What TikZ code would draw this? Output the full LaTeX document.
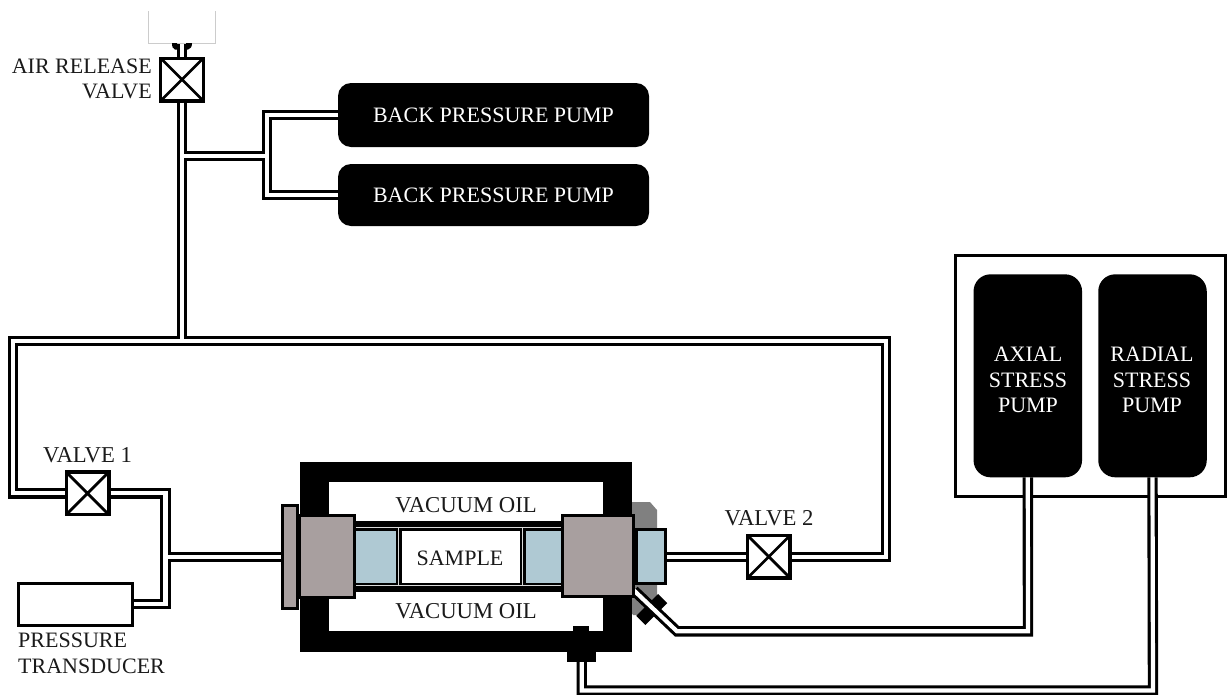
\documentclass[tikz,border=0pt]{standalone}
\usepackage{fontspec}
\setmainfont{Liberation Serif}
\definecolor{blockgrey}{HTML}{A89F9F}
\definecolor{sealblue}{HTML}{AFC9D3}
\definecolor{capgrey}{HTML}{808080}
\definecolor{inktext}{HTML}{1A1A1A}
\newcommand{\pipelayer}[1]{%
  \path[#1] (airv.south) -- (jtop);
  \path[#1] (jbranch) -- (267,156);
  \path[#1] (bp1.west) -- (267,115) -- (267,195) -- (bp2.west);
  \path[#1] (airv.north) -- (182,43);
  \path[#1] (jtop) -- (13,341) -- (13,493.3) -- (v1.west);
  \path[#1] (jtop) -- (886,341) -- (886,556.7) -- (v2.east);
  \path[#1] (v1.east) -- (165.5,493.3) -- (165.5,604.2) -- (trans.east);
  \path[#1] (165.5,556.7) -- (plate.west);
  \path[#1] (v2.west) -- (capb.east);
  \path[#1] (axial.south) -- (1028,631.3) -- (677,631.3) -- (diag);
  \path[#1] (radial.south) -- (1153,690.5) -- (581.7,690.5) -- (fitb);
}
\tikzset{
  valve/.style={draw=black,fill=white,line width=3.4pt,minimum width=42.6pt,minimum height=42.6pt,inner sep=0pt,outer sep=1.7pt,
    path picture={\draw[black,line width=2.8pt] (path picture bounding box.north west) -- (path picture bounding box.south east)
      (path picture bounding box.north east) -- (path picture bounding box.south west);}},
  pump/.style={fill=black,rounded corners=13pt,inner sep=0pt,outer sep=0pt,text=white},
  tallpump/.style={pump,rounded corners=17pt,minimum width=108.5pt,minimum height=203pt},
  widepump/.style={pump,minimum width=311pt},
  pipeouter/.style={draw=black,line width=10.4pt,miter limit=10},
  pipeinner/.style={draw=white,line width=4.2pt,miter limit=10},
  greyblock/.style={draw=black,fill=blockgrey,line width=3pt,inner sep=0pt,outer sep=1.5pt},
  label/.style={text=inktext,inner sep=0pt,align=center},
  widelabel/.style={label,font=\fontsize{22.7}{25.5}\selectfont},
  pumptext/.style={text=white,inner sep=0pt,align=center},
  flat/.style={inner sep=0pt,outer sep=0pt},
  fineline/.style={draw=black!15,line width=1.3pt},
}
\begin{document}
\begin{tikzpicture}[x=1pt,y=-1pt,font=\fontsize{22}{25.5}\selectfont]
\useasboundingbox (0,0) rectangle (1227,694);
\clip (0,0) rectangle (1227,694);
% outer pump housing
\node[flat,draw=black,line width=3pt,minimum width=270pt,minimum height=241pt] (housing) at (1090.3,376) {};
% pumps
\node[widepump,minimum height=64pt] (bp1) at (493.5,115) {};
\node[widepump,minimum height=62pt] (bp2) at (493.5,195) {};
\node[tallpump] (axial) at (1027.8,375.8) {};
\node[tallpump] (radial) at (1152.5,375.8) {};
% valves, transducer
\node[valve] (airv) at (182,79.5) {};
\node[valve] (v1) at (87.5,493.3) {};
\node[valve] (v2) at (768.8,556.7) {};
\node[flat,outer sep=1.7pt,draw=black,fill=white,line width=3.4pt,minimum width=114pt,minimum height=42pt] (trans) at (75.5,604.2) {};
% cell end parts needed as pipe ends
\node[greyblock,minimum width=15pt,minimum height=103pt] (plate) at (290,556.7) {};
\coordinate (jtop) at (182,341);
\coordinate (jbranch) at (182,156);
\coordinate (diag) at (634,590.5);
\coordinate (fitb) at (581.7,660);
% grey back cap
\path[fill=capgrey] (631,502) -- (650,502) -- (657,510) -- (657,596) -- (641,615) -- (633,615) -- (631,612) -- cycle;
% diagonal fitting, passed through by the pipe
\node[flat,fill=black,rotate=-45,minimum width=13pt,minimum height=31pt] (fita) at (651.7,609.5) {};
\node[flat,outer sep=1.5pt,draw=black,fill=sealblue,line width=3pt,minimum width=28.7pt,minimum height=53.7pt] (capb) at (650.8,556.7) {};
% pipes
\pipelayer{pipeouter}
\pipelayer{pipeinner}
% upper vessel
\draw[black!20,line width=1pt] (148,11) -- (148,43) -- (215,43) -- (215,11);
\fill (172,43) -- (177,43) -- (177,49.5) -- (175,49.5) .. controls (173,49) and (172,47) .. cycle;
\fill (192,43) -- (186,43) -- (186,49.5) -- (188,49.5) .. controls (190.5,49) and (192,47) .. cycle;
% frame
\node[flat,fill=black,minimum width=331.7pt,minimum height=190pt] (frame) at (465.8,556.7) {};
\node[flat,fill=white,minimum width=274pt,minimum height=148.4pt] (oil) at (466.3,556.5) {};
% tube
\node[flat,fill=black,minimum width=206pt,minimum height=71pt] (tube) at (459,556.5) {};
\draw[fineline] (356,527.5) -- (562,527.5) (356,585.8) -- (562,585.8) (398.3,527.5) -- (398.3,585.8) (522.7,527.5) -- (522.7,585.8);
\node[flat,fill=sealblue,minimum width=40pt,minimum height=51.7pt] (sealL) at (376,556.8) {};
\node[flat,fill=sealblue,minimum width=35pt,minimum height=51.7pt] (sealR) at (543.5,556.8) {};
\node[flat,fill=white,minimum width=118.5pt,minimum height=51.7pt] (sample) at (460.8,556.8) {};
% blocks
\node[greyblock,minimum width=55.3pt,minimum height=82pt] (blockL) at (326.8,556.5) {};
\node[greyblock,minimum width=71pt,minimum height=81.3pt] (blockR) at (598,556) {};
% bottom fitting
\node[flat,fill=black,minimum width=16pt,minimum height=30pt] (fitc) at (581.3,641) {};
\node[flat,fill=black,minimum width=29pt,minimum height=11pt] (fitd) at (581.2,656.8) {};
% labels
\node[pumptext] (tb1) at (493.5,115) {BACK PRESSURE PUMP};
\node[pumptext] (tb2) at (493.5,195) {BACK PRESSURE PUMP};
\node[pumptext] (tax) at (1028,380) {AXIAL\\STRESS\\PUMP};
\node[pumptext] (tra) at (1152,380) {RADIAL\\STRESS\\PUMP};
\node[label,align=right,anchor=east] (tair) at (152,79) {AIR RELEASE\\VALVE};
\node[widelabel] (tv1) at (87.5,455) {VALVE 1};
\node[widelabel] (tv2) at (769,518) {VALVE 2};
\node[label,align=left,anchor=west] (tpt) at (18,653.5) {PRESSURE\\TRANSDUCER};
\node[widelabel] (to1) at (466,505) {VACUUM OIL};
\node[widelabel] (to2) at (466,611) {VACUUM OIL};
\node[label] (ts) at (460,558) {SAMPLE};
\end{tikzpicture}
\end{document}
